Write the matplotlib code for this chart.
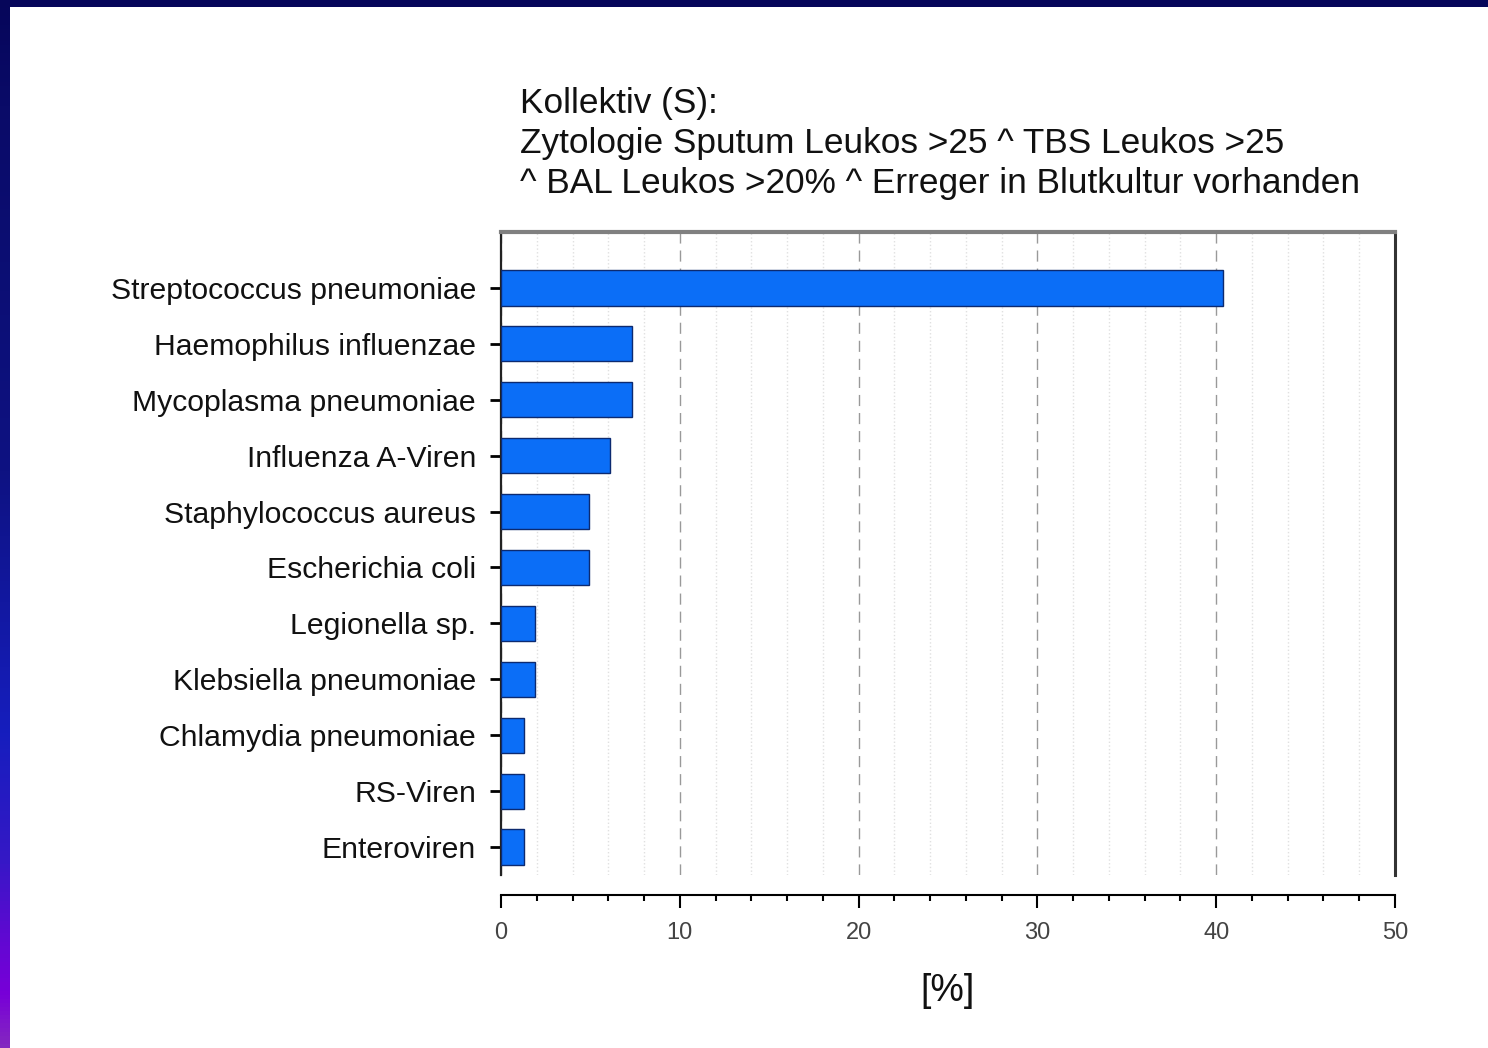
import numpy as np
import matplotlib
matplotlib.use("Agg")
import matplotlib.pyplot as plt
from matplotlib.colors import LinearSegmentedColormap
from matplotlib.ticker import MultipleLocator

plt.rcParams['font.family'] = ['Liberation Sans', 'DejaVu Sans']

# --- data ---
erreger = ["Streptococcus pneumoniae", "Haemophilus influenzae", "Mycoplasma pneumoniae",
           "Influenza A-Viren", "Staphylococcus aureus", "Escherichia coli",
           "Legionella sp.", "Klebsiella pneumoniae", "Chlamydia pneumoniae",
           "RS-Viren", "Enteroviren"]
anteil = [40.4, 7.3, 7.3, 6.1, 4.9, 4.9, 1.9, 1.9, 1.3, 1.3, 1.3]
xticks = [0, 10, 20, 30, 40, 50]
titel = ["Kollektiv (S):",
         "Zytologie Sputum Leukos >25 ^ TBS Leukos >25",
         "^ BAL Leukos >20% ^ Erreger in Blutkultur vorhanden"]

W, H = 1488, 1048
fig = plt.figure(figsize=(W / 100, H / 100), dpi=100)
fig.patch.set_facecolor("white")

# slide frame: navy bar on top, gradient strip on the left
grad = LinearSegmentedColormap.from_list("frame", [
    (0.0, "#06065a"), (0.1, "#0a0b68"), (0.45, "#0e1282"),
    (0.7, "#161ebe"), (0.82, "#3518c6"), (0.9, "#6208d2"),
    (0.95, "#7800d8"), (1.0, "#8428c0")])
ax_l = fig.add_axes([0, 0, 10 / W, 1])
ax_l.imshow(np.linspace(0, 1, 256).reshape(-1, 1), cmap=grad, aspect="auto")
ax_l.axis("off")
ax_t = fig.add_axes([0, 1 - 7 / H, 1, 7 / H])
ax_t.set_facecolor("#06065a")
ax_t.set_xticks([])
ax_t.set_yticks([])
for s in ax_t.spines.values():
    s.set_visible(False)

# --- main chart ---
ax = fig.add_axes([501 / W, 1 - 875 / H, (1395 - 501) / W, (875 - 232) / H])
# spine offset first, it resets the tick setup
ax.spines["bottom"].set_position(("outward", 14.5))
ax.spines["bottom"].set_color("black")
ax.spines["bottom"].set_linewidth(1.5)
ax.spines["top"].set_color("#808080")
ax.spines["top"].set_linewidth(3)
ax.spines["left"].set_color("#222222")
ax.spines["left"].set_linewidth(1.6)
ax.spines["right"].set_color("#333333")
ax.spines["right"].set_linewidth(2.2)

y = np.arange(len(erreger))
ax.barh(y, anteil, height=0.63, color="#0b6ef7", edgecolor="#0c2a70", linewidth=1.0, zorder=3)

ax.set_xlim(0, 50)
ax.set_ylim(10.5, -1.0)
ax.set_yticks(y)
ax.set_yticklabels(erreger)
ax.set_xticks(xticks)
ax.set_xticklabels([str(t) for t in xticks])
ax.xaxis.set_minor_locator(MultipleLocator(2))

ax.tick_params(axis="y", direction="out", length=8, width=2, color="black", pad=10,
               labelsize=21.7, labelcolor="#111111")
ax.tick_params(axis="x", which="major", direction="out", length=9, width=1.5, color="black",
               pad=10, labelsize=17, labelcolor="#444444")
ax.tick_params(axis="x", which="minor", direction="out", length=4, width=1.5, color="black")

ax.grid(axis="x", which="major", color="#999999", linestyle=(0, (8, 5)), linewidth=1.0, zorder=0)
ax.grid(axis="x", which="minor", color="#e0e0e0", linestyle=":", linewidth=1.0, zorder=0)

fig.text(947 / W, 1 - 991 / H, "[%]", fontsize=27, ha="center", va="center", color="#111111")

for i, zeile in enumerate(titel):
    fig.text(520 / W, 1 - (104 + 40 * i) / H, zeile, fontsize=25.4, ha="left", va="center",
             color="#111111")

fig.savefig("out.png", dpi=100, facecolor="white")
